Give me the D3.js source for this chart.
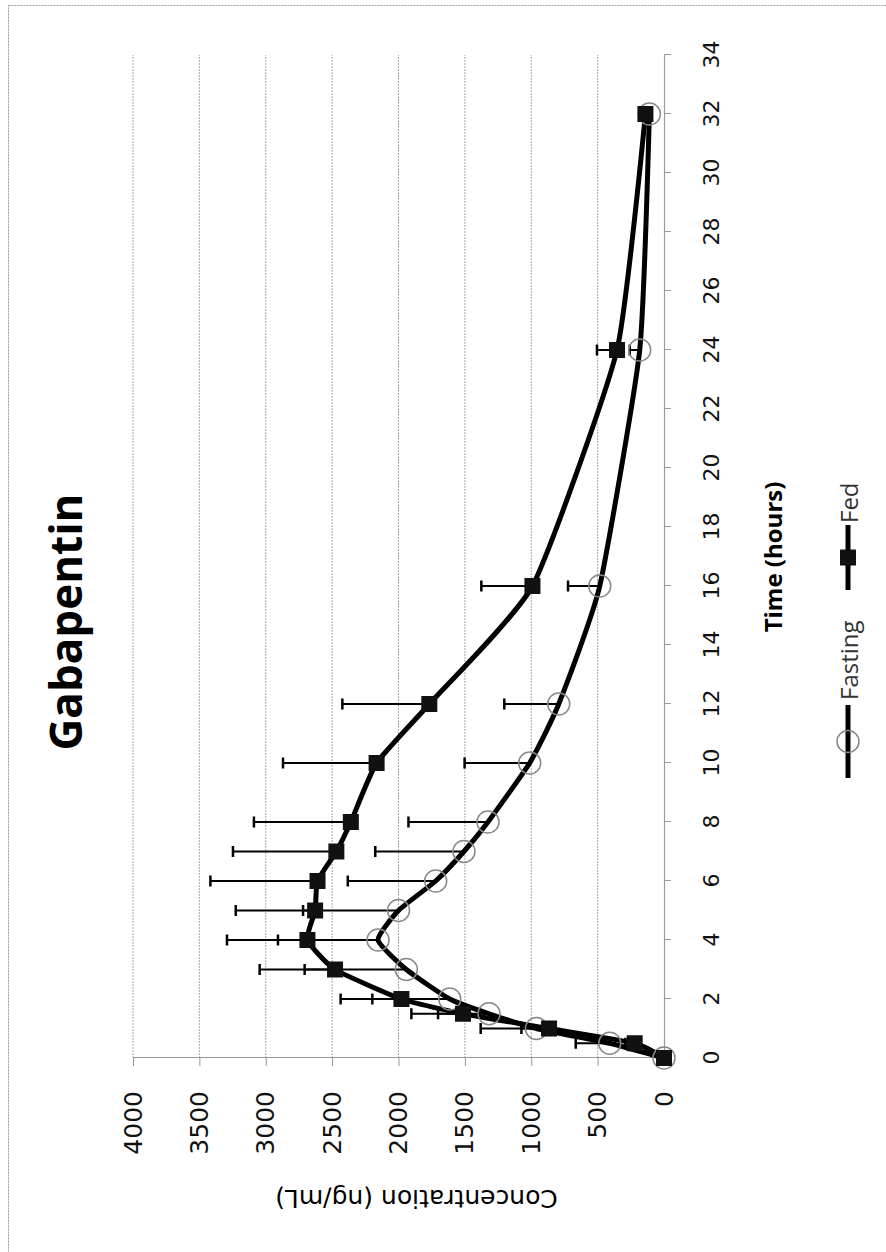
<!DOCTYPE html>
<html>
<head>
<meta charset="utf-8">
<script src="https://cdn.jsdelivr.net/npm/d3@7"></script>
<style>
  body { margin: 0; background: #fff; }
  svg { display: block; }
</style>
</head>
<body>
<svg id="chart" width="886" height="1252"></svg>
<script>
// sampling times (hours) and mean concentrations (ng/mL)
var times = [0, 0.5, 1, 1.5, 2, 3, 4, 5, 6, 7, 8, 10, 12, 16, 24, 32];
var fasting = [0, 409, 961, 1318, 1614, 1941, 2154, 2000, 1720, 1507, 1326, 1012, 793, 484, 183, 110];
var fastingErr = [0, 256, 420, 384, 583, 766, 754, 719, 662, 668, 599, 490, 410, 239, 75, 15];
var fed = [0, 221, 866, 1514, 1978, 2478, 2686, 2628, 2610, 2468, 2359, 2165, 1768, 991, 354, 140];
var fedErr = [0, 70, 208, 389, 458, 568, 606, 598, 807, 779, 730, 705, 655, 385, 151, 20];

var timeTicks = d3.range(0, 35, 2);
var concTicks = d3.range(0, 4001, 500);
var legendNames = ["Fasting", "Fed"];

var W = 886, H = 1252;
var svg = d3.select("#chart");

// outer frame (only top/left edges show in the picture)
svg.append("rect")
    .attr("x", 8.5).attr("y", 5.5)
    .attr("width", 1200).attr("height", 1400)
    .attr("fill", "none")
    .attr("stroke", "#999")
    .attr("stroke-dasharray", "2,1");

// the whole chart is turned a quarter turn counter-clockwise
var g = svg.append("g")
    .attr("transform", "translate(0," + H + ") rotate(-90)");

var x = d3.scaleLinear().domain([0, 34]).range([194, 1197]);
var y = d3.scaleLinear().domain([0, 4000]).range([664, 133]);

// gridlines
g.append("g").selectAll("line")
    .data(concTicks.slice(1))
    .enter().append("line")
    .attr("x1", x(0)).attr("x2", x(34))
    .attr("y1", function(d) { return y(d); })
    .attr("y2", function(d) { return y(d); })
    .attr("stroke", "#aaa")
    .attr("stroke-width", 1)
    .attr("stroke-dasharray", "2,1");

// axes
var xAxis = g.append("g")
    .attr("transform", "translate(0," + y(0) + ")")
    .call(d3.axisBottom(x).tickValues(timeTicks).tickFormat(d3.format("d"))
        .tickSize(7).tickSizeOuter(0).tickPadding(32));
var yAxis = g.append("g")
    .attr("transform", "translate(" + x(0) + ",0)")
    .call(d3.axisLeft(y).tickValues(concTicks).tickFormat(d3.format("d"))
        .tickSize(8).tickSizeOuter(0).tickPadding(25));

[xAxis, yAxis].forEach(function(a) {
    a.select(".domain").attr("stroke", "#999").attr("stroke-width", 1.2);
    a.selectAll(".tick line").attr("stroke", "#999");
    a.selectAll(".tick text")
        .attr("fill", "#111")
        .style("font-family", "'DejaVu Sans', sans-serif");
});
xAxis.selectAll(".tick text").style("font-size", "22px");
yAxis.selectAll(".tick text").style("font-size", "25px");

function rows(vals, errs) {
    return times.map(function(t, i) { return {t: t, c: vals[i], e: errs[i]}; });
}
var fastData = rows(fasting, fastingErr);
var fedData = rows(fed, fedErr);

// Excel style smoothing, kept mild
var line = d3.line()
    .x(function(d) { return x(d.t); })
    .y(function(d) { return y(d.c); })
    .curve(d3.curveCardinal.tension(0.5));

function drawErr(data) {
    var eb = g.append("g").attr("stroke", "#000");
    var withErr = data.filter(function(d) { return d.e > 0; });
    eb.selectAll(".bar").data(withErr).enter().append("line")
        .attr("x1", function(d) { return x(d.t); })
        .attr("x2", function(d) { return x(d.t); })
        .attr("y1", function(d) { return y(d.c); })
        .attr("y2", function(d) { return y(d.c + d.e); })
        .attr("stroke-width", 2);
    eb.selectAll(".cap").data(withErr).enter().append("line")
        .attr("x1", function(d) { return x(d.t) - 5.5; })
        .attr("x2", function(d) { return x(d.t) + 5.5; })
        .attr("y1", function(d) { return y(d.c + d.e); })
        .attr("y2", function(d) { return y(d.c + d.e); })
        .attr("stroke-width", 2.5);
}

drawErr(fastData);
drawErr(fedData);

g.append("path").datum(fastData)
    .attr("d", line)
    .attr("fill", "none").attr("stroke", "#000").attr("stroke-width", 5)
    .attr("stroke-linejoin", "round");
g.append("path").datum(fedData)
    .attr("d", line)
    .attr("fill", "none").attr("stroke", "#000").attr("stroke-width", 5)
    .attr("stroke-linejoin", "round");

g.append("g").selectAll("circle").data(fastData).enter().append("circle")
    .attr("cx", function(d) { return x(d.t); })
    .attr("cy", function(d) { return y(d.c); })
    .attr("r", 11)
    .attr("fill", "none")
    .attr("stroke", "#888")
    .attr("stroke-width", 1.5);

g.append("g").selectAll("rect").data(fedData).enter().append("rect")
    .attr("x", function(d) { return x(d.t) - 8; })
    .attr("y", function(d) { return y(d.c) - 8; })
    .attr("width", 16).attr("height", 16)
    .attr("fill", "#111");

// title
g.append("text")
    .attr("x", 630).attr("y", 82)
    .attr("text-anchor", "middle")
    .style("font-family", "'Open Sans', sans-serif")
    .style("font-weight", "bold")
    .style("font-size", "44px")
    .text("Gabapentin");

// axis titles
g.append("text")
    .attr("x", 695).attr("y", 772)
    .attr("text-anchor", "middle")
    .attr("dominant-baseline", "central")
    .style("font-family", "'Open Sans', sans-serif")
    .style("font-weight", "bold")
    .style("font-size", "24px")
    .text("Time (hours)");

g.append("text")
    .attr("transform", "translate(54,416.5) rotate(-90)")
    .attr("text-anchor", "middle")
    .attr("dominant-baseline", "central")
    .style("font-family", "'DejaVu Sans', sans-serif")
    .style("font-size", "25px")
    .text("Concentration (ng/mL)");

// legend
var legY = 848;
var lg = g.append("g");
lg.append("line").attr("x1", 474).attr("x2", 547).attr("y1", legY).attr("y2", legY)
    .attr("stroke", "#000").attr("stroke-width", 5);
lg.append("circle").attr("cx", 510.5).attr("cy", legY).attr("r", 11)
    .attr("fill", "none").attr("stroke", "#888").attr("stroke-width", 1.5);
lg.append("text").attr("x", 552).attr("y", legY)
    .attr("dominant-baseline", "central")
    .style("font-family", "'Open Sans', sans-serif").style("font-size", "24px")
    .attr("fill", "#333")
    .text(legendNames[0]);
lg.append("line").attr("x1", 662).attr("x2", 727).attr("y1", legY).attr("y2", legY)
    .attr("stroke", "#000").attr("stroke-width", 5);
lg.append("rect").attr("x", 694.5 - 8).attr("y", legY - 8).attr("width", 16).attr("height", 16)
    .attr("fill", "#111");
lg.append("text").attr("x", 729).attr("y", legY)
    .attr("dominant-baseline", "central")
    .style("font-family", "'Open Sans', sans-serif").style("font-size", "24px")
    .attr("fill", "#333")
    .text(legendNames[1]);
</script>
</body>
</html>
